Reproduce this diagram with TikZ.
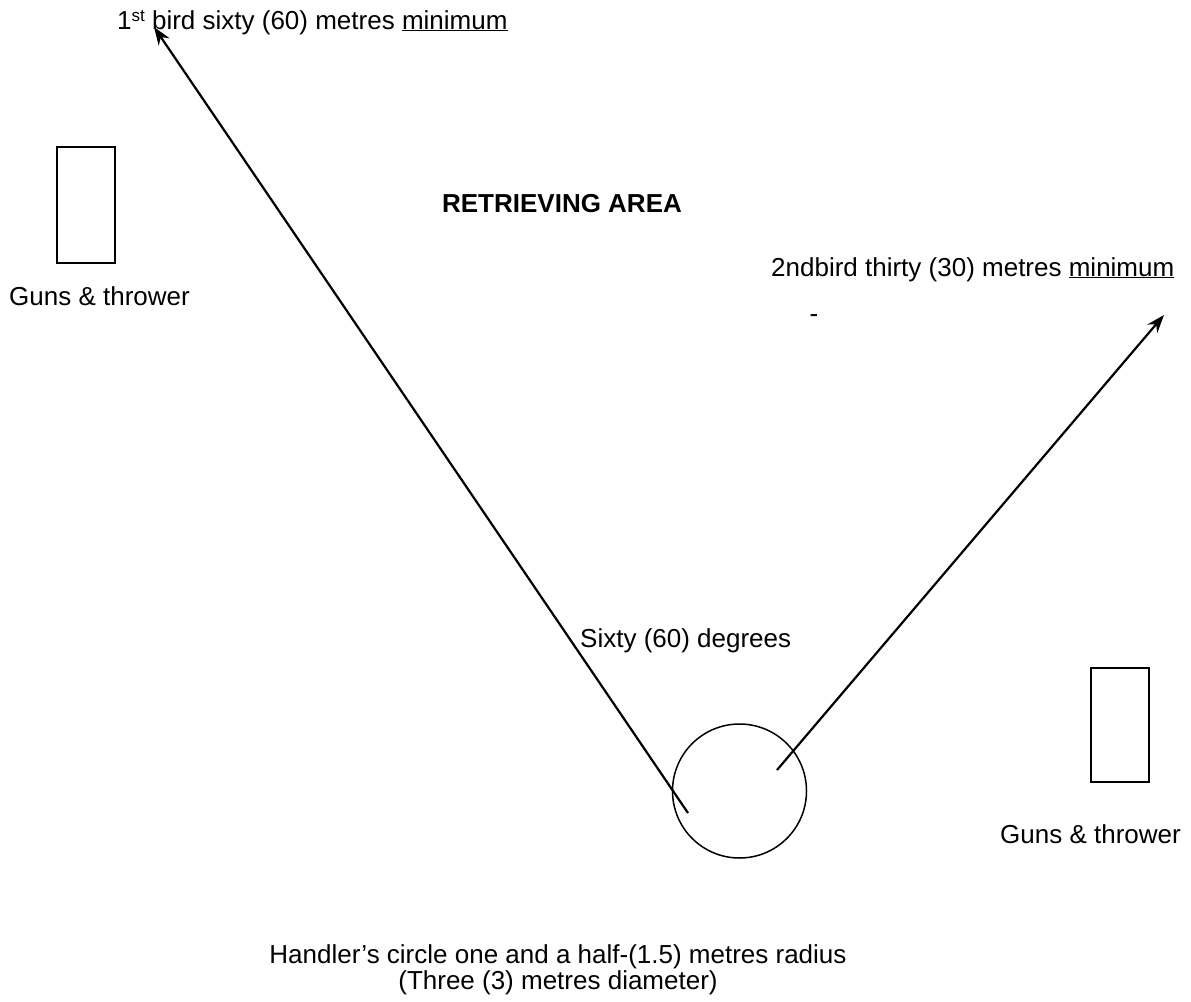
\documentclass[tikz,border=0pt]{standalone}
\usepackage{fontspec}
\setmainfont{Liberation Sans}
\usetikzlibrary{arrows.meta}
\begin{document}
\begin{tikzpicture}[x=1pt,y=-1pt,
  lbl/.style={inner sep=0pt,font=\fontsize{26}{27}\selectfont},
  box/.style={draw,line width=1.5pt,minimum width=58pt,minimum height=116pt,inner sep=0pt},
  ray/.style={line width=2.2pt,-{Stealth[length=18pt,width=13pt]}}]
\useasboundingbox (0,0) rectangle (1191,1001);
\node[box] (g1) at (86,205) {};
\node[box,minimum height=114pt] (g2) at (1120,725) {};
\node[draw,circle,line width=1.5pt,minimum size=134pt,inner sep=0pt] (hc) at (739.5,791) {};
\coordinate (s1) at (688,813);
\coordinate (t1) at (154,27);
\coordinate (s2) at (777,770);
\coordinate (t2) at (1164,315);
\draw[ray] (s1) -- (t1);
\draw[ray] (s2) -- (t2);
\node[lbl,anchor=base west] (l1) at (117,29) {1{\fontsize{17}{18}\selectfont\raisebox{8pt}{st}} bird sixty (60) metres \underline{minimum}};
\node[lbl,anchor=base,font=\fontsize{26}{27}\selectfont\bfseries] (ra) at (562,212) {RETRIEVING AREA};
\node[lbl,anchor=base west] (l2) at (771,276) {2ndbird thirty (30) metres \underline{minimum}};
\node[lbl,anchor=base] (dash) at (814,322) {-};
\node[lbl,anchor=base west] (gt1) at (9,305) {Guns \& thrower};
\node[lbl,anchor=base west] (gt2) at (1000,843) {Guns \& thrower};
\node[lbl,anchor=base west] (sx) at (580,647) {Sixty (60) degrees};
\node[lbl,anchor=base] (h1) at (558,963) {Handler’s circle one and a half-(1.5) metres radius};
\node[lbl,anchor=base] (h2) at (558,989) {(Three (3) metres diameter)};
\end{tikzpicture}
\end{document}
